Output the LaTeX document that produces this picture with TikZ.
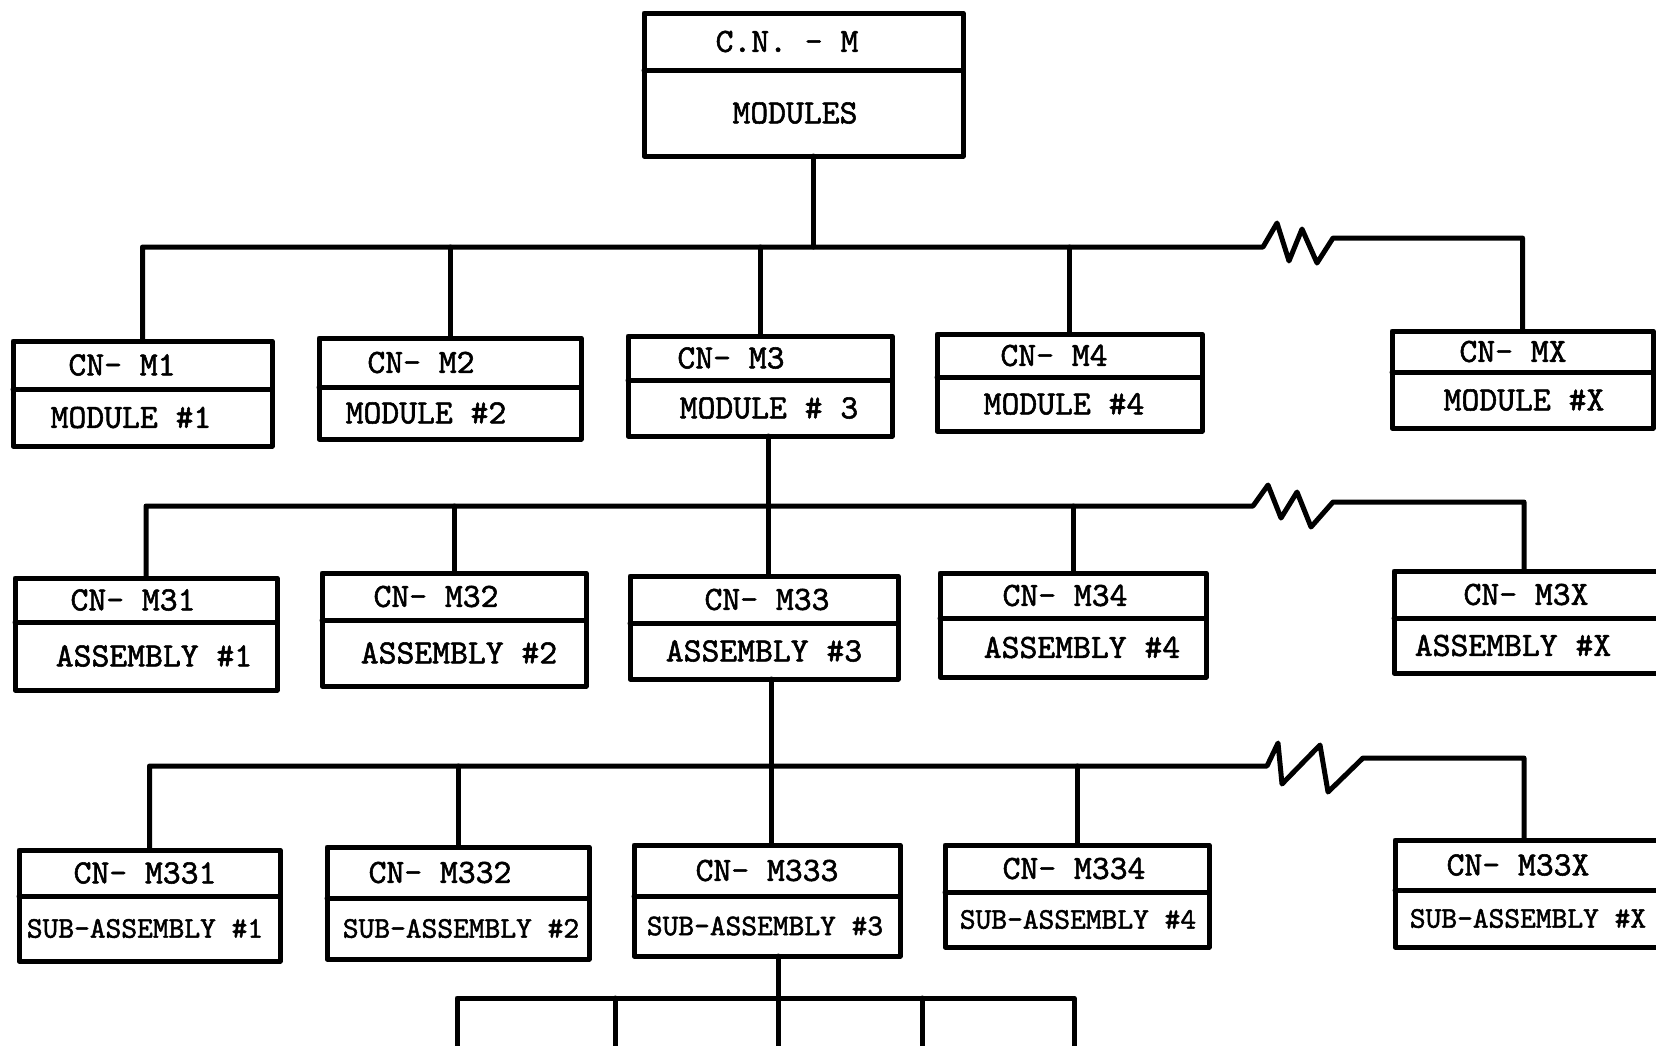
\documentclass[tikz,border=0pt]{standalone}
\usepackage{fontspec}
\newfontfamily\twfont{lmmono10-regular.otf}[FakeBold=1.6]
\usetikzlibrary{calc}
\tikzset{
 ln/.style={line width=5pt, line cap=round, line join=round},
 boxst/.style={draw, line width=5pt, inner sep=0pt, outer sep=0pt, line join=round},
 lbl/.style={inner sep=0pt, font=\fontsize{34}{37}\selectfont\twfont},
 slbl/.style={inner sep=0pt, font=\fontsize{30}{33}\selectfont\twfont},
}
% name x1 y1 x2 y2 ydiv
\newcommand\cnbox[6]{%
 \node[boxst, minimum width={(#4-#2)*1pt}, minimum height={(#5-#3)*1pt}] (#1) at ({(#2+#4)/2},{(#3+#5)/2}) {};
 \draw[ln] (#2,#6) -- (#4,#6);
 \coordinate (#1-tc) at (0,{(#3+#6)/2});
 \coordinate (#1-bc) at (0,{(#6+#5)/2});
}
% name xtop top xbottom bottom bottom-style
\newcommand\cntext[6]{%
 \node[lbl] (#1-t) at ($(#1-tc)+(#2,0)$) {#3};
 \node[#6] (#1-b) at ($(#1-bc)+(#4,0)$) {#5};
}
\begin{document}
\begin{tikzpicture}[x=1pt,y=-1pt]
\useasboundingbox (0,0) rectangle (1656,1045);
\clip (0,0) rectangle (1656,1045);
\fill[white] (0,0) rectangle (1656,1045);

% top
\cnbox{cnm}{644}{13}{963}{156}{70}
\cntext{cnm}{787}{C.N. - M}{795}{MODULES}{lbl}

% level 1
\cnbox{m1}{13}{341}{272}{446}{389}
\cntext{m1}{122}{CN- M1}{131}{MODULE \#1}{lbl}
\cnbox{m2}{319}{338}{581}{439}{387}
\cntext{m2}{421}{CN- M2}{426}{MODULE \#2}{lbl}
\cnbox{m3}{628}{336}{892}{436}{380}
\cntext{m3}{731}{CN- M3}{769}{MODULE \# 3}{lbl}
\cnbox{m4}{937}{334}{1202}{431}{377}
\cntext{m4}{1054}{CN- M4}{1064}{MODULE \#4}{lbl}
\cnbox{mx}{1392}{331}{1653}{428}{372}
\cntext{mx}{1513}{CN- MX}{1524}{MODULE \#X}{lbl}

% level 2
\cnbox{m31}{15}{578}{277}{690}{622}
\cntext{m31}{133}{CN- M31}{154}{ASSEMBLY \#1}{lbl}
\cnbox{m32}{322}{573}{586}{686}{620}
\cntext{m32}{436}{CN- M32}{459}{ASSEMBLY \#2}{lbl}
\cnbox{m33}{630}{576}{898}{679}{623}
\cntext{m33}{767}{CN- M33}{764}{ASSEMBLY \#3}{lbl}
\cnbox{m34}{940}{573}{1206}{677}{618}
\cntext{m34}{1065}{CN- M34}{1082}{ASSEMBLY \#4}{lbl}
\cnbox{m3x}{1394}{571}{1664}{673}{618}
\cntext{m3x}{1526}{CN- M3X}{1513}{ASSEMBLY \#X}{lbl}

% level 3
\cnbox{m331}{19}{850}{280}{961}{896}
\cntext{m331}{145}{CN- M331}{145}{SUB-ASSEMBLY \#1}{slbl}
\cnbox{m332}{327}{847}{589}{959}{898}
\cntext{m332}{440}{CN- M332}{461}{SUB-ASSEMBLY \#2}{slbl}
\cnbox{m333}{634}{845}{900}{956}{896}
\cntext{m333}{767}{CN- M333}{765}{SUB-ASSEMBLY \#3}{slbl}
\cnbox{m334}{945}{845}{1209}{947}{892}
\cntext{m334}{1074}{CN- M334}{1078}{SUB-ASSEMBLY \#4}{slbl}
\cnbox{m33x}{1395}{840}{1664}{947}{890}
\cntext{m33x}{1518}{CN- M33X}{1528}{SUB-ASSEMBLY \#X}{slbl}

% connectors level 0 -> 1
\coordinate (t1) at (813,247);
\coordinate (z1s) at (1263,247);
\coordinate (z1e) at (1333,238);
\draw[ln] (cnm.south -| t1) -- (t1);
\draw[ln] (m1.north) |- (z1s) -- (1277,223) -- (1289,261) -- (1302,229) -- (1317,263) -- (z1e) -| (mx.north);
\foreach \n in {m2,m3,m4} \draw[ln] (\n.north) -- (\n.north |- z1s);

% level 1 -> 2
\coordinate (xd) at (1524,0);
\coordinate (t2) at (768,506);
\coordinate (z2s) at (1253,506);
\coordinate (z2e) at (1333,502);
\draw[ln] (m3.south -| t2) -- (m33.north -| t2);
\draw[ln] (m31.north) |- (z2s) -- (1268,485) -- (1281,518) -- (1297,492) -- (1311,527) -- (z2e) -| (m3x.north -| xd);
\foreach \n in {m32,m34} \draw[ln] (\n.north) -- (\n.north |- z2s);

% level 2 -> 3
\coordinate (t3) at (771,766);
\coordinate (z3s) at (1267,766);
\coordinate (z3e) at (1363,758);
\draw[ln] (m33.south -| t3) -- (m333.north -| t3);
\draw[ln] (m331.north) |- (z3s) -- (1278,743) -- (1282,784) -- (1320,745) -- (1328,792) -- (z3e) -| (m33x.north -| xd);
\foreach \n in {m332,m334} \draw[ln] (\n.north) -- (\n.north |- z3s);

% level 3 -> 4 (open ends)
\coordinate (t4) at (778,998);
\coordinate (e1) at (457,1052);
\coordinate (e2) at (615,1052);
\coordinate (e3) at (778,1052);
\coordinate (e4) at (922,1052);
\coordinate (e5) at (1074,1052);
\draw[ln] (m333.south -| t4) -- (e3);
\draw[ln] (e1) |- (t4) -| (e5);
\foreach \n in {e2,e4} \draw[ln] (\n) -- (\n |- t4);
\end{tikzpicture}
\end{document}
